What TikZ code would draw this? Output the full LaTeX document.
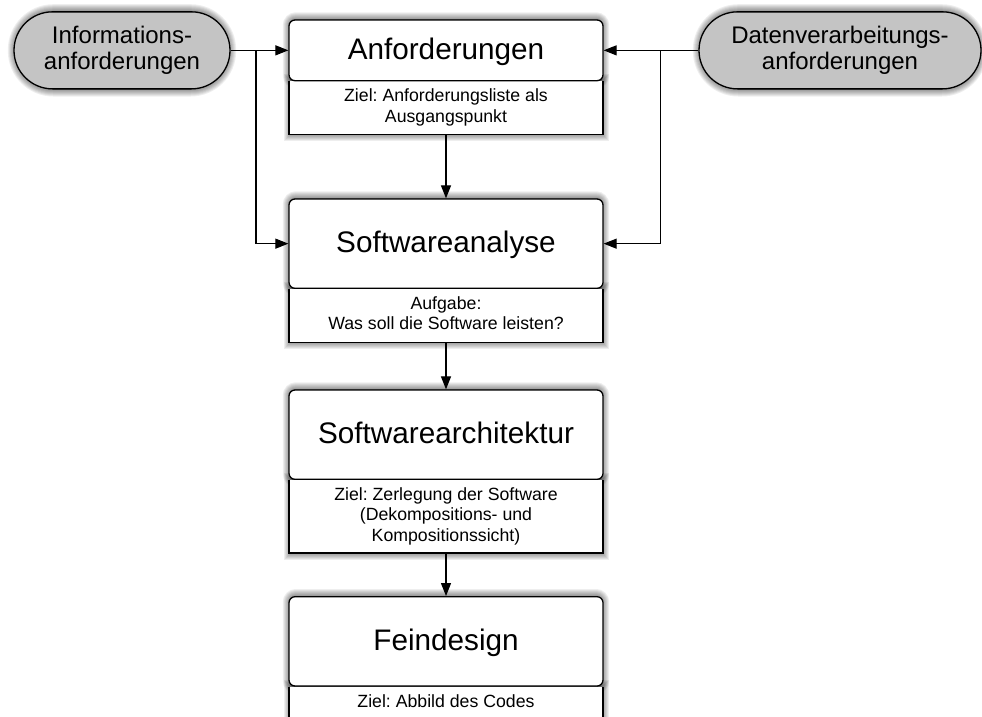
\documentclass[tikz,border=0pt]{standalone}
\usepackage{fontspec}
\setmainfont{Liberation Sans}
\usetikzlibrary{arrows.meta,shapes.misc,backgrounds}
\frenchspacing

\definecolor{reqgray}{RGB}{196,196,196}

\tikzset{
  headbox/.style={draw, fill=white, line width=1.3pt, rounded corners=6pt,
      minimum width=314pt, inner sep=0pt,
      font=\fontsize{29.7}{32}\selectfont, text height=18.6pt, text depth=0pt},
  bodyarea/.style={anchor=north, minimum width=314pt, inner sep=0pt, outer sep=0pt},
  bodytext/.style={anchor=north, inner xsep=0pt, inner ysep=7.6pt, align=center,
      font=\fontsize{17.7}{20.3}\selectfont},
  bodyframe/.style={line width=1.3pt, line join=miter},
  reqpill/.style={rounded rectangle, draw, fill=reqgray, line width=1.3pt,
      minimum height=77pt, inner sep=0pt, align=center,
      font=\fontsize{24}{25.5}\selectfont},
  flow/.style={line width=1.2pt, -{Triangle[length=13pt,width=10pt]}},
  shadowlayer/.style={shift={(0pt,-5.5pt)}, fill=black, draw=black, opacity=0.065},
}

% soft shadow: stacked translucent strokes of growing width
% #1 corner radius, #2 upper left corner, #3 lower right corner
\newcommand\castshadow[3]{%
  \foreach \w in {2,4,6,8,10,12,14}
    \path[shadowlayer, line width=\w pt, rounded corners=#1]
      ([xshift=1.5pt]#2) rectangle ([xshift=-1.5pt]#3);%
}

\begin{document}
\begin{tikzpicture}[x=1pt,y=-1pt]
\useasboundingbox (0,0) rectangle (982,716);

% phase boxes: heading part and description part
\node[headbox, minimum height=60.7pt] (anf) at (446,50.35) {Anforderungen};
\node[bodyarea, minimum height=53pt] (anfD) at (anf.south) {};
\node[bodytext] (anfT) at (anfD.north) {Ziel: Anforderungsliste als\\Ausgangspunkt};

\node[headbox, minimum height=89.3pt] (sa) at (446,243.65) {Softwareanalyse};
\node[bodyarea, minimum height=53.4pt] (saD) at (sa.south) {};
\node[bodytext] (saT) at (saD.north) {Aufgabe:\\Was soll die Software leisten?};

\node[headbox, minimum height=89.3pt] (arch) at (446,434.65) {Softwarearchitektur};
\node[bodyarea, minimum height=73pt] (archD) at (arch.south) {};
\node[bodytext] (archT) at (archD.north) {Ziel: Zerlegung der Software\\(Dekompositions- und\\Kompositionssicht)};

\node[headbox, minimum height=89.3pt] (fein) at (446,641.35) {Feindesign};
\node[bodyarea, minimum height=60pt] (feinD) at (fein.south) {};
\node[bodytext] (feinT) at (feinD.north) {Ziel: Abbild des Codes};

% outline of the description parts
\foreach \d in {anfD,saD,archD,feinD}
  \draw[bodyframe] (\d.north west) -- (\d.south west) -- (\d.south east) -- (\d.north east);

% requirement sources
\node[reqpill, minimum width=216pt] (infoL) at (122,50.35) {Informations-\\anforderungen};
\node[reqpill, minimum width=282pt] (datR) at (840,50.35) {Datenverarbeitungs-\\anforderungen};

% shadows and white backing behind the boxes
\begin{scope}[on background layer]
  \foreach \h/\d in {anf/anfD,sa/saD,arch/archD,fein/feinD}{
    \castshadow{6pt}{\h.north west}{\h.south east}
    \castshadow{0pt}{\d.north west}{\d.south east}
  }
  \foreach \p in {infoL,datR}
    \castshadow{38.5pt}{\p.west |- \p.north}{\p.east |- \p.south}
  \foreach \d in {anfD,saD,archD,feinD}
    \fill[white] (\d.north west) rectangle (\d.south east);
\end{scope}

\coordinate (jL) at (256,50.35);
\coordinate (jR) at (660.7,50.35);

% connectors
\draw[flow] (infoL.east) -- (anf.west);
\draw[flow] (jL) |- (sa.west);
\draw[flow] (datR.west) -- (anf.east);
\draw[flow] (jR) |- (sa.east);
\draw[flow] (anfD.south) -- (sa.north);
\draw[flow] (saD.south) -- (arch.north);
\draw[flow] (archD.south) -- (fein.north);
\end{tikzpicture}
\end{document}
